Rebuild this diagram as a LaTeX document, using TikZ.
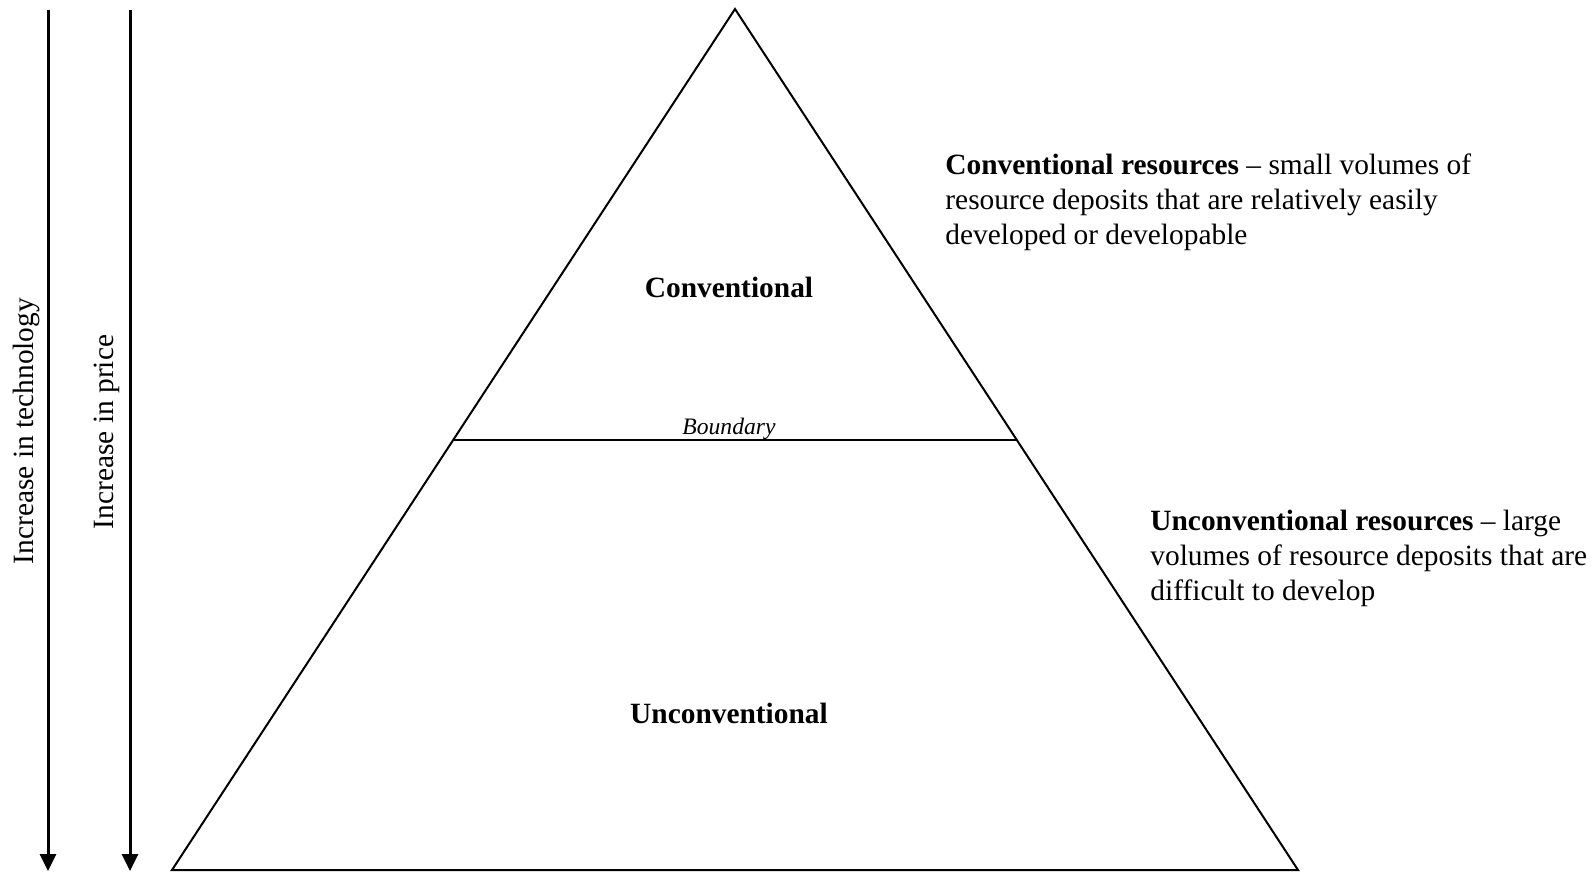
\documentclass[tikz,border=0pt]{standalone}
\usepackage{fontspec}
\setmainfont{Liberation Serif}
\usetikzlibrary{arrows.meta}
\tikzset{
  edge/.style={line width=1pt, line join=miter},
  axisarrow/.style={line width=1.5pt, -{Triangle[width=8pt,length=8.5pt]}},
  lbl/.style={inner sep=0pt, font=\fontsize{14.7}{17}\selectfont},
  blk/.style={inner sep=0pt, font=\fontsize{14.7}{17.5}\selectfont, align=left, anchor=north west},
  small/.style={inner sep=0pt, font=\fontsize{11.8}{14}\selectfont\itshape}
}
\begin{document}
\begin{tikzpicture}[x=0.5pt,y=-0.5pt]
\useasboundingbox (0,0) rectangle (1596,874);
% triangle
\coordinate (apex) at (735,9);
\coordinate (bl) at (172,870);
\coordinate (br) at (1298,870);
\coordinate (bndL) at (453,440);
\coordinate (bndR) at (1017,440);
\draw[edge] (bl) -- (apex) -- (br) -- cycle;
\draw[edge] (bndL) -- (bndR);
\node[small, anchor=base] (bnd) at (729,434) {Boundary};
\node[lbl, font=\fontsize{14.7}{17}\selectfont\bfseries] (conv) at (729,287) {Conventional};
\node[lbl, font=\fontsize{14.7}{17}\selectfont\bfseries] (unconv) at (729,713) {Unconventional};
% arrows
\coordinate (t1) at (48,10);
\coordinate (b1) at (48,871);
\coordinate (t2) at (130,10);
\coordinate (b2) at (130,871);
\draw[axisarrow] (t1) -- (b1);
\draw[axisarrow] (t2) -- (b2);
\node[lbl, rotate=90] (tech) at (26,431) {Increase in technology};
\node[lbl, rotate=90] (price) at (107,432) {Increase in price};
% descriptions
\node[blk] (convtxt) at (945,153) {\textbf{Conventional resources} -- small volumes of\\resource deposits that are relatively easily\\developed or developable};
\node[blk] (unconvtxt) at (1150,510) {\textbf{Unconventional resources} -- large\\volumes of resource deposits that are\\difficult to develop};
\end{tikzpicture}
\end{document}
